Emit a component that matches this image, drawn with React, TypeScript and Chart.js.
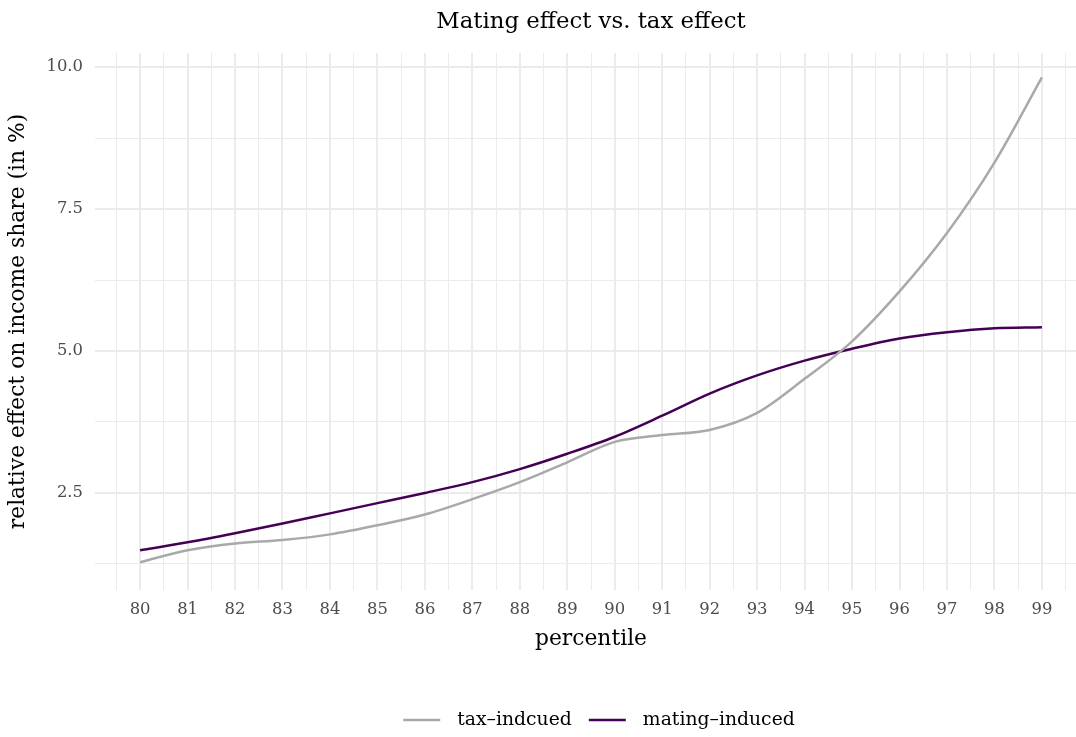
import React, { useEffect, useRef } from "react";
import { Chart, registerables } from "chart.js";

Chart.register(...registerables);

const percentiles = [80, 81, 82, 83, 84, 85, 86, 87, 88, 89, 90, 91, 92, 93, 94, 95, 96, 97, 98, 99];
const taxInduced = [1.28, 1.49, 1.61, 1.67, 1.77, 1.93, 2.12, 2.39, 2.69, 3.04, 3.4, 3.52, 3.61, 3.91, 4.51, 5.17, 6.05, 7.08, 8.32, 9.82];
const matingInduced = [1.49, 1.63, 1.79, 1.96, 2.14, 2.32, 2.5, 2.69, 2.92, 3.19, 3.49, 3.86, 4.25, 4.57, 4.83, 5.04, 5.22, 5.33, 5.4, 5.42];
const xTicks = [79.5, 80, 80.5, 81, 81.5, 82, 82.5, 83, 83.5, 84, 84.5, 85, 85.5, 86, 86.5, 87, 87.5, 88, 88.5, 89, 89.5, 90, 90.5, 91, 91.5, 92, 92.5, 93, 93.5, 94, 94.5, 95, 95.5, 96, 96.5, 97, 97.5, 98, 98.5, 99, 99.5];
const yTicks = [1.25, 2.5, 3.75, 5.0, 6.25, 7.5, 8.75, 10.0];

const seriesNames = ["tax\u2013indcued", "mating\u2013induced"];
const seriesColors = ["#A9A9A9", "#440154"];
const titleText = "Mating effect vs. tax effect";
const xTitle = "percentile";
const yTitle = "relative effect on income share (in %)";

const FONT = "'DejaVu Serif', serif";

export default function App() {
  const ref = useRef<HTMLCanvasElement | null>(null);

  useEffect(() => {
    const canvas = ref.current;
    if (!canvas) return;

    const decor = {
      id: "decor",
      afterDraw(chart: any) {
        const ctx = chart.ctx;
        const area = chart.chartArea;
        ctx.save();
        // title
        ctx.fillStyle = "#000000";
        ctx.font = `22.8px ${FONT}`;
        ctx.textAlign = "center";
        ctx.textBaseline = "middle";
        ctx.fillText(titleText, (area.left + area.right) / 2, 22);
        // legend
        ctx.font = `18.8px ${FONT}`;
        const lineW = 37;
        const gap = 17;
        const itemGap = 17;
        const widths = seriesNames.map((n) => ctx.measureText(n).width);
        let total = 0;
        widths.forEach((w, i) => {
          total += lineW + gap + w + (i < widths.length - 1 ? itemGap : 0);
        });
        let x = 599 - total / 2;
        const y = 720;
        seriesNames.forEach((n, i) => {
          ctx.strokeStyle = seriesColors[i];
          ctx.lineWidth = 2.5;
          ctx.beginPath();
          ctx.moveTo(x, y);
          ctx.lineTo(x + lineW, y);
          ctx.stroke();
          x += lineW + gap;
          ctx.fillStyle = "#000000";
          ctx.textAlign = "left";
          ctx.textBaseline = "middle";
          ctx.fillText(n, x, y);
          x += widths[i] + itemGap;
        });
        ctx.restore();
      },
    };

    const chart = new Chart(canvas, {
      type: "line",
      data: {
        datasets: [
          {
            label: seriesNames[0],
            data: percentiles.map((p, i) => ({ x: p, y: taxInduced[i] })),
            borderColor: seriesColors[0],
            backgroundColor: seriesColors[0],
            borderWidth: 2.5,
            pointRadius: 0,
            cubicInterpolationMode: "monotone",
            fill: false,
          },
          {
            label: seriesNames[1],
            data: percentiles.map((p, i) => ({ x: p, y: matingInduced[i] })),
            borderColor: seriesColors[1],
            backgroundColor: seriesColors[1],
            borderWidth: 2.5,
            pointRadius: 0,
            cubicInterpolationMode: "monotone",
            fill: false,
          },
        ],
      },
      options: {
        responsive: false,
        animation: false,
        devicePixelRatio: 1,
        layout: { padding: { top: 53, right: 13, bottom: 85, left: 0 } },
        plugins: {
          legend: { display: false },
          title: { display: false },
          tooltip: { enabled: false },
        },
        scales: {
          x: {
            type: "linear",
            min: 79.05,
            max: 99.95,
            afterBuildTicks: (scale: any) => {
              scale.ticks = xTicks.map((v) => ({ value: v }));
            },
            afterFit: (scale: any) => {
              scale.height = 62;
            },
            grid: {
              color: "#EBEBEB",
              lineWidth: (c: any) => (c.tick && c.tick.value % 1 === 0 ? 2 : 1),
              drawTicks: false,
            },
            border: { display: false },
            ticks: {
              padding: 10,
              maxRotation: 0,
              autoSkip: false,
              color: "#4D4D4D",
              font: { family: FONT, size: 16.4 },
              callback: (v: any) => (Number(v) % 1 === 0 ? String(v) : ""),
            },
            title: {
              display: true,
              text: xTitle,
              color: "#000000",
              font: { family: FONT, size: 21.8 },
              padding: { top: 0, bottom: 0 },
            },
          },
          y: {
            type: "linear",
            min: 0.79,
            max: 10.25,
            afterBuildTicks: (scale: any) => {
              scale.ticks = yTicks.map((v) => ({ value: v }));
            },
            afterFit: (scale: any) => {
              scale.width = 95;
            },
            grid: {
              color: "#EBEBEB",
              lineWidth: (c: any) => (c.tick && Math.abs(c.tick.value / 2.5 - Math.round(c.tick.value / 2.5)) < 1e-6 ? 2 : 1),
              drawTicks: false,
            },
            border: { display: false },
            ticks: {
              padding: 12,
              autoSkip: false,
              color: "#4D4D4D",
              font: { family: FONT, size: 16.4 },
              callback: (v: any) => {
                const n = Number(v);
                return Math.abs(n / 2.5 - Math.round(n / 2.5)) < 1e-6 ? n.toFixed(1) : "";
              },
            },
            title: {
              display: true,
              text: yTitle,
              color: "#000000",
              font: { family: FONT, size: 21.8 },
              padding: { top: 5, bottom: 0 },
            },
          },
        },
      },
      plugins: [decor],
    } as any);

    return () => chart.destroy();
  }, []);

  return (
    <div
      style={{
        position: "fixed",
        left: 0,
        top: 0,
        width: 1076,
        height: 737,
        overflow: "hidden",
        background: "#ffffff",
      }}
    >
      <canvas ref={ref} width={1100} height={737} style={{ width: 1100, height: 737, display: "block" }} />
    </div>
  );
}
